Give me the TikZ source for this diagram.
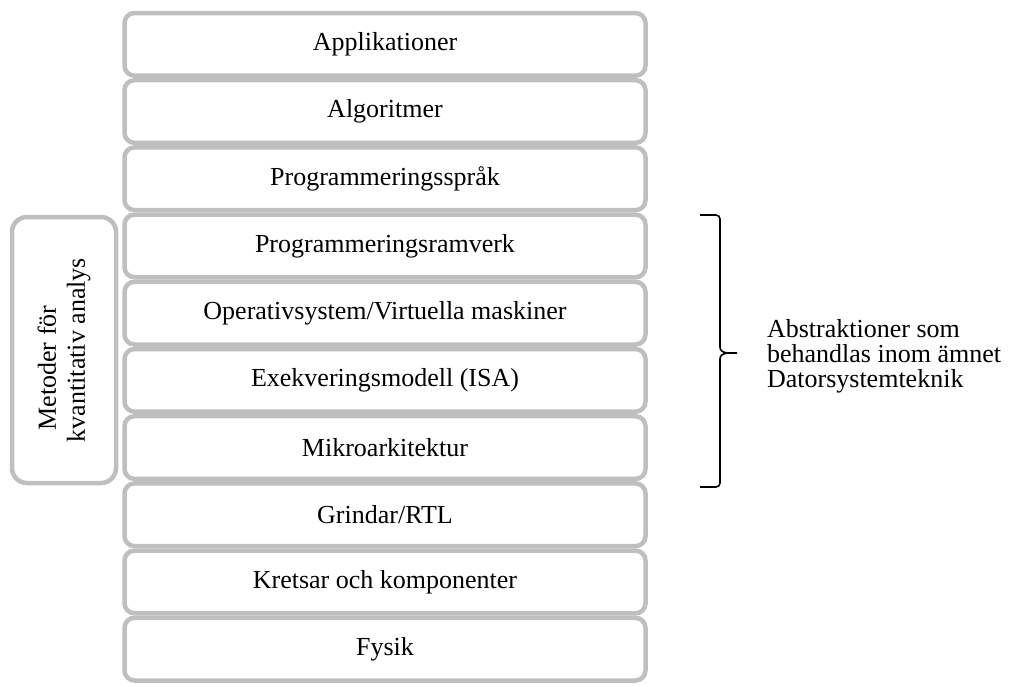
\documentclass[tikz,border=0pt]{standalone}
\usepackage{fontspec}
\setmainfont{Liberation Serif}
\usepackage{tikz}
\usetikzlibrary{positioning}
\definecolor{lagergrau}{HTML}{BFBFBF}

\begin{document}
\begin{tikzpicture}[x=0.5pt, y=-0.5pt,
				lager/.style={draw=lagergrau, line width=2.25pt, rounded corners=5pt, fill=white,
					minimum width=260.5pt, minimum height=31.35pt, inner sep=0pt},
				metod/.style={draw=lagergrau, line width=2.25pt, rounded corners=7.5pt, rotate=90,
					minimum width=133pt, minimum height=52pt, inner sep=0pt, align=center,
					font=\fontsize{13}{14.5}\selectfont},
				font=\fontsize{13}{12.6}\selectfont]
				\useasboundingbox (0,0) rectangle (1011,686);
				% Abstraktionslager
				\foreach \txt [count=\i] in {Applikationer, Algoritmer, Programmeringsspråk,
					Programmeringsramverk, Operativsystem/Virtuella maskiner, Exekveringsmodell (ISA),
					Mikroarkitektur, Grindar/RTL, Kretsar och komponenter, Fysik}
					\node[lager] (l\i) at (385,{44.35+67.2*(\i-1)}) {\txt};
				% Metoder
				\node[metod] (metod) at (64,350) {Metoder för\hspace*{18pt}\\kvantitativ analys};
				% Klammer och text
				\coordinate (ktop) at (700,215);
				\coordinate (kbot) at (700,487);
				\node[anchor=west, align=left] (abstr) at (760,356)
					{Abstraktioner som\\behandlas inom ämnet\\Datorsystemteknik};
				\draw[line width=0.8pt] (ktop) -- ++(16,0) to[out=0,in=90] ++(4,4) -- (720,347)
					to[out=-90,in=180] (737,353) to[out=180,in=90] (720,359)
					-- (720,483) to[out=-90,in=0] ++(-4,4) -- (kbot);
\end{tikzpicture}
\end{document}
